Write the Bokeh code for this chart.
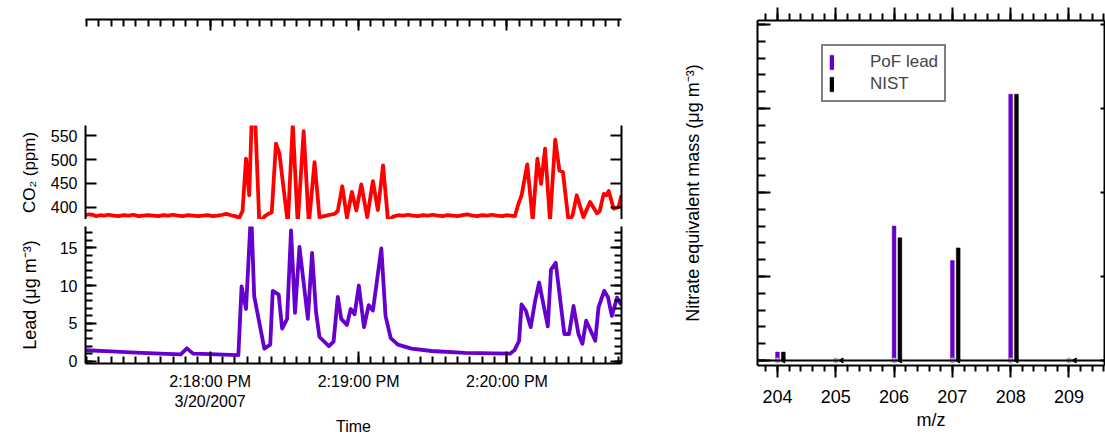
from bokeh.plotting import figure
from bokeh.models import Range1d, FixedTicker, LinearAxis, Legend, LegendItem, Span, ColumnDataSource
from bokeh.layouts import row, column
from bokeh.transform import dodge
from bokeh.embed import file_html
from bokeh.resources import INLINE

# ---------------- data ----------------
# time in seconds after 2:17:00 PM, 3/20/2007
time_ticks = [60, 120, 180]
time_labels = {60: "2:18:00 PM\n3/20/2007", 120: "2:19:00 PM", 180: "2:20:00 PM"}

co2_t = [9.6, 11, 12.5, 14, 15.5, 17, 19, 21, 23, 25, 27, 29, 31, 33, 35, 37, 39, 41, 43, 45,
         47, 49, 51, 53, 55, 57, 59, 61, 63, 65, 66.5, 68.4, 70, 71.8, 73.1, 74.5, 75.8, 76.8,
         78.2, 79.9, 81.9, 83.2, 84.9, 86.6, 88.0, 89.3, 91.4, 93.4, 95.4, 97.8, 99.9, 102.2,
         104.2, 106.9, 108.5, 110.3, 111.6, 113.4, 115.3, 117.3, 119.1, 121.1, 123.5, 125.8,
         127.8, 129.9, 131.9, 133.9, 136, 138, 140, 142, 144, 146, 148, 150, 152, 154, 156,
         158, 160, 162, 164, 166, 168, 170, 172, 174, 176, 178, 180, 181.5, 183.2, 184.5,
         185.9, 188.2, 190.4, 192.3, 193.8, 195.4, 197.4, 199.5, 201.2, 202.6, 204.9, 206.5,
         208.2, 210.9, 213.6, 216.4, 217.5, 219.1, 220.2, 221.1, 223.1, 225.1, 226.3]
co2_ppm = [383, 385, 384, 381, 383, 382, 384, 382, 381, 383, 382, 384, 381, 382, 383, 382, 381,
           383, 382, 384, 382, 381, 383, 382, 381, 382, 383, 381, 382, 384, 386, 383, 381, 378,
           392, 502, 425, 585, 585, 365, 380, 385, 389, 534, 513, 456, 365, 575, 365, 560, 365,
           495, 379, 382, 384, 386, 392, 444, 378, 432, 393, 448, 379, 455, 394, 488, 372, 380,
           383, 382, 384, 382, 381, 383, 382, 384, 382, 381, 383, 382, 381, 383, 385, 382, 381,
           383, 382, 384, 382, 381, 383, 382, 381, 405, 425, 490, 372, 502, 449, 523, 370, 542,
           477, 474, 370, 382, 425, 379, 411, 387, 392, 428, 425, 434, 397, 400, 425]

lead_t = [9.6, 20, 30, 40, 48.1, 50.6, 53.1, 60, 68.4, 71.4, 72.7, 74.5, 76.2, 76.8, 77.8, 81.9,
          84.3, 85.3, 87.7, 89.1, 91.1, 92.7, 94.3, 96.1, 99.5, 101.2, 102.8, 104.2, 108.0,
          109.9, 111.6, 113.0, 115.3, 116.8, 118.4, 120.1, 122.2, 124.1, 125.8, 129.2, 130.9,
          133.0, 135.9, 141.4, 149.5, 163.0, 181.2, 183.0, 184.9, 185.9, 187.6, 189.6, 191.4,
          193.0, 196.5, 197.8, 199.7, 203.2, 205.1, 206.9, 208.9, 210.5, 212.0, 215.7, 217.0,
          219.3, 220.8, 222.4, 224.5, 226.3]
lead_ug = [1.45, 1.3, 1.15, 1.0, 0.9, 1.7, 1.0, 0.95, 0.85, 0.8, 9.9, 6.9, 17.8, 17.8, 8.6, 1.66,
           2.2, 9.3, 8.8, 4.3, 5.6, 17.3, 6.4, 15.1, 5.6, 14.3, 6.5, 3.2, 2.0, 2.6, 8.5, 5.6,
           4.8, 6.9, 6.2, 10.0, 4.5, 7.4, 6.7, 14.9, 6.0, 3.05, 2.2, 1.66, 1.35, 1.1, 1.0, 1.44,
           2.7, 7.5, 6.7, 4.5, 8.0, 10.4, 4.6, 12.1, 13.0, 3.6, 3.6, 7.3, 3.6, 2.3, 5.35, 2.7,
           7.1, 9.3, 8.5, 6.0, 8.4, 7.4]

mz = [204, 205, 206, 207, 208, 209]
pof_lead = [0.10, 0.0, 1.60, 1.19, 3.17, 0.0]
nist = [0.10, 0.0, 1.46, 1.34, 3.17, 0.0]
mz_baseline = [0, 0, 0, 0, 0, 0]

# ---------------- styling helpers ----------------
FONT = "Liberation Sans"
PURPLE = "#6600CC"
RED = "#FF0000"


def style_axis(ax, major_in=0, minor_in=0, major_out=0, minor_out=0, size="16px", labels=True):
    ax.axis_line_width = 2
    ax.axis_line_color = "black"
    ax.major_tick_line_width = 2
    ax.minor_tick_line_width = 2
    ax.major_tick_line_color = "black"
    ax.minor_tick_line_color = "black"
    ax.major_tick_in = major_in
    ax.major_tick_out = major_out
    ax.minor_tick_in = minor_in
    ax.minor_tick_out = minor_out
    ax.major_label_text_font = FONT
    ax.axis_label_text_font = FONT
    ax.axis_label_text_font_style = "normal"
    ax.axis_label_text_color = "black"
    if labels:
        ax.major_label_text_font_size = size
        ax.major_label_text_color = "black"
    else:
        # tick marks only: no label text is drawn at all
        ax.major_label_text_font_size = "0px"
        ax.major_label_text_color = None
        ax.major_label_text_alpha = 0
        ax.major_label_standoff = 0


def base_fig(**kw):
    p = figure(toolbar_location=None, output_backend="svg", **kw)
    p.outline_line_color = None
    p.xgrid.visible = False
    p.ygrid.visible = False
    p.background_fill_color = "white"
    p.border_fill_color = "white"
    return p


xr = Range1d(9.6, 226.3)
minor5 = list(range(10, 230, 5))
LW = 640

# ---- top floating time axis ----
p_top = base_fig(width=LW, height=125, x_range=xr, y_range=Range1d(0, 1),
                 x_axis_location="above", y_axis_location=None,
                 min_border_left=85, min_border_right=19, min_border_top=19, min_border_bottom=0)
p_top.xaxis.ticker = FixedTicker(ticks=time_ticks, minor_ticks=minor5)
style_axis(p_top.xaxis[0], major_in=11, minor_in=7, labels=False)

# ---- CO2 panel ----
p_co2 = base_fig(width=LW, height=94, x_range=xr, y_range=Range1d(374, 572),
                 x_axis_location=None,
                 min_border_left=85, min_border_right=19, min_border_top=0, min_border_bottom=0)
p_co2.line(co2_t, co2_ppm, color=RED, line_width=3.8, line_join="round")
co2_ticker = FixedTicker(ticks=[400, 450, 500, 550], minor_ticks=[])
p_co2.yaxis.ticker = co2_ticker
p_co2.yaxis.axis_label = "CO₂ (ppm)"
style_axis(p_co2.yaxis[0], major_in=11)
p_co2.yaxis.major_label_standoff = 8
p_co2.yaxis.axis_label_standoff = 9
p_co2.yaxis.axis_label_text_font_size = "17px"
ax_r = LinearAxis(ticker=co2_ticker)
style_axis(ax_r, major_in=11, labels=False)
p_co2.add_layout(ax_r, "right")

# ---- Lead panel ----
p_lead = base_fig(width=LW, height=218, x_range=xr, y_range=Range1d(-0.3, 17.8),
                  min_border_left=85, min_border_right=19, min_border_top=7, min_border_bottom=72)
p_lead.line(lead_t, lead_ug, color=PURPLE, line_width=3.8, line_join="round")
lead_ticker = FixedTicker(ticks=[0, 5, 10, 15], minor_ticks=list(range(0, 18)))
p_lead.yaxis.ticker = lead_ticker
p_lead.yaxis.axis_label = "Lead (μg m⁻³)"
style_axis(p_lead.yaxis[0], major_in=11, minor_in=7)
p_lead.yaxis.major_label_standoff = 8
p_lead.yaxis.axis_label_standoff = 17
p_lead.yaxis.axis_label_text_font_size = "18px"
ax_r2 = LinearAxis(ticker=lead_ticker)
style_axis(ax_r2, major_in=11, minor_in=7, labels=False)
p_lead.add_layout(ax_r2, "right")
p_lead.xaxis.ticker = FixedTicker(ticks=time_ticks, minor_ticks=minor5)
p_lead.xaxis.major_label_overrides = time_labels
p_lead.xaxis.axis_label = "Time"
style_axis(p_lead.xaxis[0], major_in=12, minor_in=7)
p_lead.xaxis.major_label_standoff = 9
p_lead.xaxis.axis_label_standoff = 5
p_lead.xaxis.axis_label_text_font_size = "16px"

left = column(p_top, p_co2, p_lead, spacing=0)

# ---- mass spectrum panel ----
RW = 1105 - LW
p_ms = base_fig(width=RW, height=437, x_range=Range1d(203.657, 209.61), y_range=Range1d(-0.06, 4.047),
                min_border_left=757 - LW, min_border_right=1, min_border_top=20, min_border_bottom=72)
src = ColumnDataSource(dict(mz=mz, pof=pof_lead, nist=nist, base=mz_baseline))
p_ms.add_layout(Span(location=0, dimension="width", line_color="black", line_width=2))
r_pof = p_ms.vbar(x="mz", top="pof", bottom=0, width=0.065, source=src,
                  fill_color=PURPLE, line_color=PURPLE, line_width=0.5)
r_nist = p_ms.vbar(x=dodge("mz", 0.1, range=p_ms.x_range), top="nist", bottom=0, width=0.065,
                   source=src, fill_color="black", line_color="black", line_width=0.5)
p_ms.scatter(x="mz", y="base", source=src, marker="circle", size=5,
             fill_color="#B8B0CC", line_color="#B8B0CC")
p_ms.scatter(x=dodge("mz", 0.1, range=p_ms.x_range), y="base", source=src, marker="triangle",
             angle=1.5708, size=5, fill_color="black", line_color="black")

mz_minor = [round(203.6 + 0.2 * k, 1) for k in range(32)]
mz_ticker = FixedTicker(ticks=mz, minor_ticks=mz_minor)
p_ms.xaxis.ticker = mz_ticker
p_ms.xaxis.axis_label = "m/z"
style_axis(p_ms.xaxis[0], major_out=12, minor_out=6, size="18px")
p_ms.xaxis.major_label_standoff = 12
p_ms.xaxis.axis_label_standoff = 4
p_ms.xaxis.axis_label_text_font_size = "18px"

y_ticker = FixedTicker(ticks=[0, 1, 2, 3, 4], minor_ticks=[round(0.2 * k, 1) for k in range(21)])
p_ms.yaxis.ticker = y_ticker
p_ms.yaxis.axis_label = "Nitrate equivalent mass (μg m⁻³)"
style_axis(p_ms.yaxis[0], major_in=13, minor_in=8, labels=False)
p_ms.yaxis.axis_label_standoff = 55
p_ms.yaxis.axis_label_text_font_size = "18px"

ax_top = LinearAxis(ticker=mz_ticker)
style_axis(ax_top, major_out=13, minor_out=7, labels=False)
p_ms.add_layout(ax_top, "above")
ax_right = LinearAxis(ticker=FixedTicker(ticks=[0, 1, 2, 3, 4], minor_ticks=[]))
style_axis(ax_right, major_in=4, labels=False)
p_ms.add_layout(ax_right, "right")

legend = Legend(items=[LegendItem(label="PoF lead", renderers=[r_pof]),
                       LegendItem(label="NIST", renderers=[r_nist])],
                location=(64, 263), orientation="vertical", padding=6, spacing=2,
                glyph_width=5, glyph_height=18, label_standoff=36, margin=0,
                label_text_font=FONT, label_text_font_size="17px",
                border_line_color="black", border_line_width=2,
                background_fill_color="white", background_fill_alpha=1.0)
p_ms.add_layout(legend)

layout = row(left, p_ms, spacing=0)

with open("out.html", "w") as f:
    f.write(file_html(layout, INLINE))
